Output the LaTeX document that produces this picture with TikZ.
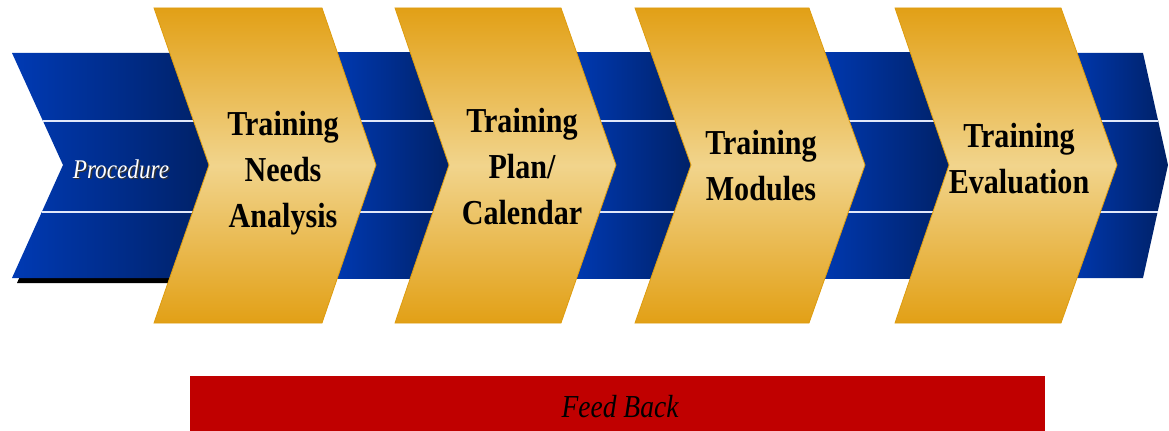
\documentclass[tikz,border=0pt]{standalone}
\usepackage{fontspec}
\newfontfamily\cserif[FakeStretch=0.86]{Liberation Serif}
\definecolor{blueL}{RGB}{0,58,180}
\definecolor{blueD}{RGB}{0,32,100}
\definecolor{goldD}{RGB}{226,160,22}
\definecolor{goldL}{RGB}{241,212,140}
\definecolor{goldE}{RGB}{222,156,14}
\definecolor{fbred}{RGB}{192,0,0}
\definecolor{sepline}{RGB}{225,232,250}
\tikzset{
  bluepart/.style={left color=blueL, right color=blueD, draw=none},
  goldchev/.style={top color=goldD, bottom color=goldD, middle color=goldL, draw=goldE, line width=0.6pt},
  lbl/.style={font=\cserif\bfseries\fontsize{26.25}{34.5}\selectfont, align=center, anchor=base, inner sep=0pt, text=black},
  proclbl/.style={font=\cserif\itshape\fontsize{20.25}{24}\selectfont, anchor=base, inner sep=0pt},
  fblbl/.style={font=\cserif\itshape\fontsize{24}{28}\selectfont, anchor=base, inner sep=0pt, text=black},
  sep/.style={draw=sepline, line width=1.1pt}
}
\begin{document}
\begin{tikzpicture}[x=0.75pt,y=-0.75pt]
\path[use as bounding box] (0,0) rectangle (1169,431);
% shadow of first blue part
\fill[black] (17,57) -- (220,57) -- (220,283) -- (17,283) -- (68,170) -- cycle;
% blue band parts
\path[bluepart] (12,53) -- (215,53) -- (215,278) -- (12,278) -- (63,165) -- cycle;
\path[bluepart] (330,53) rectangle (455,278);
\path[bluepart] (570,53) rectangle (697,278);
\path[bluepart] (815,53) rectangle (955,278);
\path[bluepart] (1065,53) -- (1143,53) -- (1168,165) -- (1143,278) -- (1065,278) -- cycle;
% separator lines
\draw[sep] (43,121) -- (1158,121);
\draw[sep] (42,212) -- (1158,212);
% gold chevrons
\path[goldchev] (154,8) -- (322,8) -- (376,165) -- (322,323) -- (154,323) -- (209,165) -- cycle;
\path[goldchev] (395,8) -- (561,8) -- (616,165) -- (561,323) -- (395,323) -- (449,165) -- cycle;
\path[goldchev] (635,8) -- (809,8) -- (865,165) -- (809,323) -- (635,323) -- (691,165) -- cycle;
\path[goldchev] (895,8) -- (1061,8) -- (1117,165) -- (1061,323) -- (895,323) -- (949,165) -- cycle;
% labels (base anchor = baseline of last line)
\node[proclbl, text=black!80] (procshadow) at (122.5,179.5) {Procedure};
\node[proclbl, text=white] (proc) at (121,178) {Procedure};
\node[lbl] (tna) at (283,227) {Training\\Needs\\Analysis};
\node[lbl] (tpc) at (522,224) {Training\\Plan/\\Calendar};
\node[lbl] (tm) at (761,200) {Training\\Modules};
\node[lbl] (te) at (1019,193) {Training\\Evaluation};
% feedback bar
\fill[fbred] (190,376) rectangle (1045,431);
\node[fblbl] (fb) at (620,417) {Feed Back};
\end{tikzpicture}
\end{document}
